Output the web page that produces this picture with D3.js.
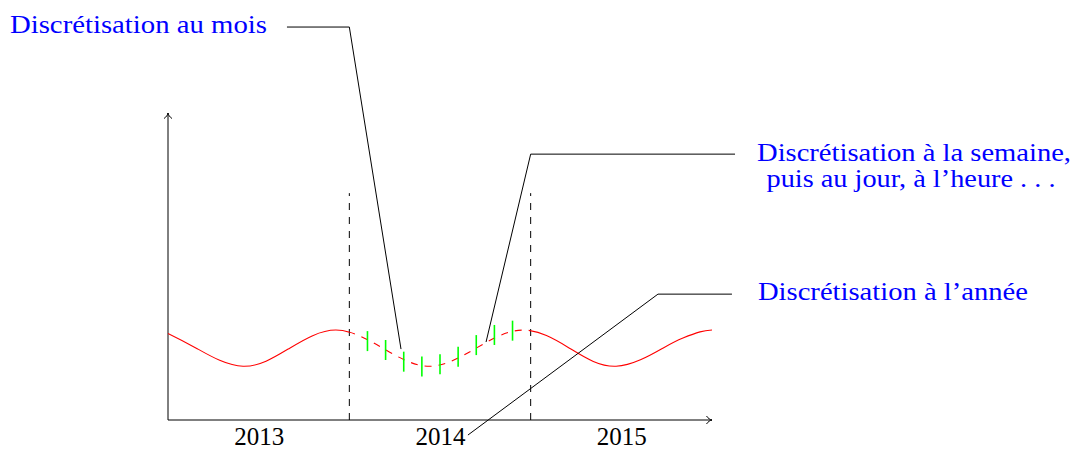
<!DOCTYPE html>
<html>
<head>
<meta charset="utf-8">
<script src="https://cdn.jsdelivr.net/npm/d3@7"></script>
<style>
body { margin: 0; background: #fff; }
svg { display: block; font-family: "Liberation Serif", serif; }
</style>
</head>
<body>
<svg id="chart" width="1075" height="449"></svg>
<script>
/* The red signal (x in years, height in arbitrary units) */
var curveYears  = [2013.0, 2013.156, 2013.414, 2013.671, 2013.926, 2014.184, 2014.442,
                   2014.699, 2014.958, 2015.214, 2015.471, 2015.729, 2015.840, 2015.934, 2016.0];
var curveValues = [28.2, 23.4, 17.5, 23.4, 29.3, 23.4, 17.5,
                   23.4, 29.3, 23.4, 17.5, 23.4, 26.7, 28.7, 29.3];

/* Green sampling marks inside 2014 */
var sampleYears  = [2014.1, 2014.2, 2014.3, 2014.4, 2014.5, 2014.6, 2014.7, 2014.8, 2014.9];
var sampleValues = [25.7, 22.8, 19.0, 17.4, 18.2, 20.6, 24.4, 27.7, 29.1];

/* Years on the x axis and the two dashed boundaries */
var yearLabels = ["2013", "2014", "2015"];
var yearStarts = [2013, 2014, 2015];
var boundaryYears = [2014, 2015];
var boundaryTop = 73.9;

/* Callouts: text lines and leader line points (year, value) */
var calloutTexts = [
    ["Discrétisation au mois"],
    ["Discrétisation à la semaine,", "puis au jour, à l’heure . . ."],
    ["Discrétisation à l’année"]
];
var calloutPoints = [
    [[2013.656, 128.0], [2014.0, 128.0], [2014.285, 23.1]],
    [[2016.127, 86.6], [2015.0, 86.6], [2014.754, 25.4]],
    [[2016.11, 41.0], [2015.702, 41.0], [2014.654, -4.9]]
];

var svg = d3.select("#chart");

var x = d3.scaleLinear().domain([2013, 2016]).range([168, 712]);
var y = d3.scaleLinear().domain([0, 100]).range([420, 113]);

var blue = "#0000ff";
var serif = "'Liberation Serif', serif";

/* Arrow tip like the TikZ "to" arrow */
function arrowTip(px, py, angle) {
    svg.append("path")
        .attr("d", "M-5.5,-4 C-4,-1.6 -1.6,-0.3 0,0 C-1.6,0.3 -4,1.6 -5.5,4")
        .attr("transform", "translate(" + px + "," + py + ") rotate(" + angle + ")")
        .attr("fill", "none")
        .attr("stroke", "#000")
        .attr("stroke-width", 1);
}

// dashed year boundaries, drawn from the bottom up
svg.selectAll(".boundary")
    .data(boundaryYears)
    .enter().append("line")
    .attr("class", "boundary")
    .attr("x1", function(d) { return x(d); })
    .attr("x2", function(d) { return x(d); })
    .attr("y1", y(0))
    .attr("y2", y(boundaryTop))
    .attr("stroke", "#000")
    .attr("stroke-width", 1)
    .attr("stroke-dasharray", "7,7");

// axes lines with arrows
svg.append("line")
    .attr("x1", x(2013)).attr("y1", y(0))
    .attr("x2", x(2016)).attr("y2", y(0))
    .attr("stroke", "#000").attr("stroke-width", 1);
arrowTip(x(2016), y(0), 0);

svg.append("line")
    .attr("x1", x(2013)).attr("y1", y(0))
    .attr("x2", x(2013)).attr("y2", y(100))
    .attr("stroke", "#000").attr("stroke-width", 1);
arrowTip(x(2013), y(100), -90);

// year labels, centred in each year
var xAxis = d3.axisBottom(x)
    .tickValues(yearStarts.map(function(d) { return d + 0.5; }))
    .tickFormat(function(d, i) { return yearLabels[i]; })
    .tickSize(0)
    .tickPadding(7);

var gx = svg.append("g")
    .attr("transform", "translate(0," + y(0) + ")")
    .call(xAxis);
gx.select(".domain").remove();
gx.attr("font-family", serif);
gx.selectAll("text")
    .attr("font-family", serif)
    .attr("font-size", 25)
    .attr("fill", "#000");

// red signal: solid outside 2014, dashed inside
var points = curveYears.map(function(d, i) { return [d, curveValues[i]]; });
var signal = d3.line()
    .x(function(p) { return x(p[0]); })
    .y(function(p) { return y(p[1]); })
    .curve(d3.curveNatural);

var defs = svg.append("defs");
defs.append("clipPath").attr("id", "outside")
    .selectAll("rect")
    .data([[2012, 2014], [2015, 2017]])
    .enter().append("rect")
    .attr("x", function(d) { return x(d[0]); })
    .attr("width", function(d) { return x(d[1]) - x(d[0]); })
    .attr("y", 0).attr("height", 449);
defs.append("clipPath").attr("id", "inside")
    .append("rect")
    .attr("x", x(2014))
    .attr("width", x(2015) - x(2014))
    .attr("y", 0).attr("height", 449);

svg.append("path")
    .datum(points)
    .attr("d", signal)
    .attr("clip-path", "url(#outside)")
    .attr("fill", "none")
    .attr("stroke", "#ff0000")
    .attr("stroke-width", 1.1);

svg.append("path")
    .datum(points)
    .attr("d", signal)
    .attr("clip-path", "url(#inside)")
    .attr("fill", "none")
    .attr("stroke", "#ff0000")
    .attr("stroke-width", 1.1)
    .attr("stroke-dasharray", "7,7");

// green sampling marks
svg.selectAll(".sample")
    .data(sampleYears)
    .enter().append("line")
    .attr("class", "sample")
    .attr("x1", function(d) { return x(d); })
    .attr("x2", function(d) { return x(d); })
    .attr("y1", function(d, i) { return y(sampleValues[i]) - 10; })
    .attr("y2", function(d, i) { return y(sampleValues[i]) + 10; })
    .attr("stroke", "#00ff00")
    .attr("stroke-width", 1.6);

// callout leader lines
var leader = d3.line()
    .x(function(p) { return x(p[0]); })
    .y(function(p) { return y(p[1]); });

svg.selectAll(".leader")
    .data(calloutPoints)
    .enter().append("path")
    .attr("class", "leader")
    .attr("d", leader)
    .attr("fill", "none")
    .attr("stroke", "#000")
    .attr("stroke-width", 1);

// callout texts
function label(str, px, py, anchor, width) {
    svg.append("text")
        .attr("x", px).attr("y", py)
        .attr("text-anchor", anchor)
        .attr("font-family", serif)
        .attr("font-size", 26)
        .attr("fill", blue)
        .attr("textLength", width)
        .attr("lengthAdjust", "spacingAndGlyphs")
        .text(str);
}

var p0 = calloutPoints[0][0];
label(calloutTexts[0][0], x(p0[0]) - 20, y(p0[1]) + 5.5, "end", 257);

var p1 = calloutPoints[1][0];
label(calloutTexts[1][0], x(p1[0]) + 179, y(p1[1]) + 6.5, "middle", 314);
label(calloutTexts[1][1], x(p1[0]) + 176, y(p1[1]) + 33, "middle", 289);

var p2 = calloutPoints[2][0];
label(calloutTexts[2][0], x(p2[0]) + 26, y(p2[1]) + 5.5, "start", 270);
</script>
</body>
</html>
